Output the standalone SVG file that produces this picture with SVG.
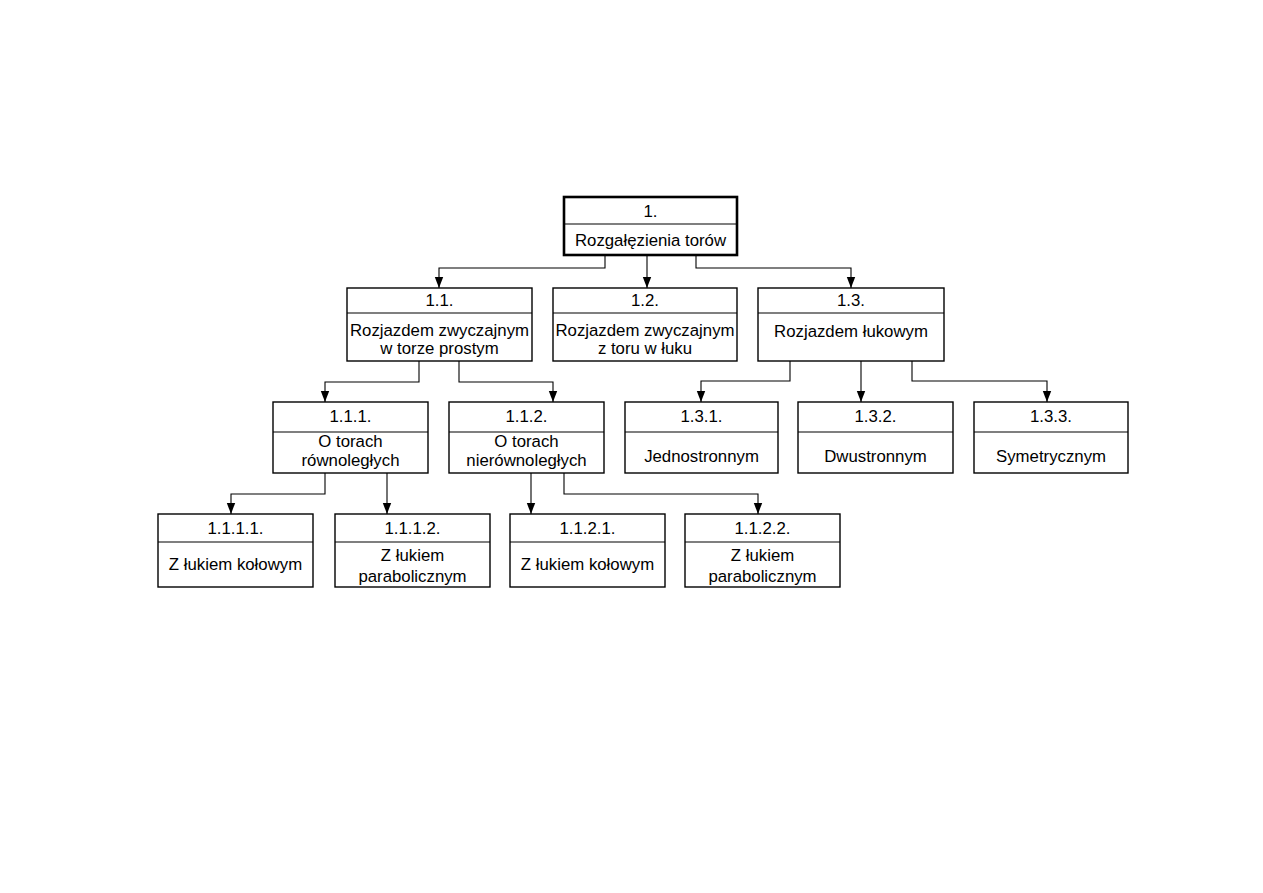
<svg xmlns="http://www.w3.org/2000/svg" width="1263" height="893" viewBox="0 0 1263 893">
<style>
.box{fill:#fff;stroke:#000;stroke-width:1.4}
.root{fill:#fff;stroke:#000;stroke-width:2.6}
.div{stroke:#000;stroke-width:1.2}
text{font-family:"Liberation Sans",Arial,sans-serif;font-size:16.8px;fill:#000;text-anchor:middle}
.c{fill:none;stroke:#000;stroke-width:1.1}
</style>
<defs>
<marker id="ah" viewBox="0 0 10 10" refX="10" refY="5" markerWidth="11" markerHeight="11" markerUnits="userSpaceOnUse" orient="auto">
<path d="M0,1.2 L10,5 L0,8.8 Z" fill="#000"/>
</marker>
</defs>
<rect width="1263" height="893" fill="#fff"/>
<g id="connectors">
<polyline class="c" points="605,255 605,268 439,268 439,288" marker-end="url(#ah)"/>
<polyline class="c" points="647,255 647,288" marker-end="url(#ah)"/>
<polyline class="c" points="696,255 696,268 851,268 851,288" marker-end="url(#ah)"/>
<polyline class="c" points="419,361 419,382 325,382 325,402" marker-end="url(#ah)"/>
<polyline class="c" points="459,361 459,382 553,382 553,402" marker-end="url(#ah)"/>
<polyline class="c" points="790,361 790,381 701,381 701,402" marker-end="url(#ah)"/>
<polyline class="c" points="861,361 861,402" marker-end="url(#ah)"/>
<polyline class="c" points="912,361 912,381 1047,381 1047,402" marker-end="url(#ah)"/>
<polyline class="c" points="325,473 325,494 231,494 231,514" marker-end="url(#ah)"/>
<polyline class="c" points="387,473 387,514" marker-end="url(#ah)"/>
<polyline class="c" points="531,473 531,514" marker-end="url(#ah)"/>
<polyline class="c" points="564,473 564,494 758,494 758,514" marker-end="url(#ah)"/>
</g>
<g id="n1">
<rect class="root" x="564" y="197" width="173" height="58"/>
<line class="div" x1="564" y1="224" x2="737" y2="224"/>
<text x="650.5" y="217">1.</text>
<text x="650.5" y="246">Rozgałęzienia torów</text>
</g>
<g id="n1_1">
<rect class="box" x="347" y="288" width="185" height="73"/>
<line class="div" x1="347" y1="313" x2="532" y2="313"/>
<text x="439.5" y="306">1.1.</text>
<text x="439.5" y="336">Rozjazdem zwyczajnym</text>
<text x="439.5" y="354">w torze prostym</text>
</g>
<g id="n1_2">
<rect class="box" x="553" y="288" width="184" height="73"/>
<line class="div" x1="553" y1="313" x2="737" y2="313"/>
<text x="645" y="306">1.2.</text>
<text x="645" y="336">Rozjazdem zwyczajnym</text>
<text x="645" y="354">z toru w łuku</text>
</g>
<g id="n1_3">
<rect class="box" x="758" y="288" width="186" height="73"/>
<line class="div" x1="758" y1="313" x2="944" y2="313"/>
<text x="851" y="306">1.3.</text>
<text x="851" y="337">Rozjazdem łukowym</text>
</g>
<g id="n1_1_1">
<rect class="box" x="273" y="402" width="155" height="71"/>
<line class="div" x1="273" y1="432" x2="428" y2="432"/>
<text x="350.5" y="422">1.1.1.</text>
<text x="350.5" y="447">O torach</text>
<text x="350.5" y="466">równoległych</text>
</g>
<g id="n1_1_2">
<rect class="box" x="449" y="402" width="155" height="71"/>
<line class="div" x1="449" y1="432" x2="604" y2="432"/>
<text x="526.5" y="422">1.1.2.</text>
<text x="526.5" y="447">O torach</text>
<text x="526.5" y="466">nierównoległych</text>
</g>
<g id="n1_3_1">
<rect class="box" x="625" y="402" width="153" height="71"/>
<line class="div" x1="625" y1="432" x2="778" y2="432"/>
<text x="701.5" y="422">1.3.1.</text>
<text x="701.5" y="462">Jednostronnym</text>
</g>
<g id="n1_3_2">
<rect class="box" x="798" y="402" width="155" height="71"/>
<line class="div" x1="798" y1="432" x2="953" y2="432"/>
<text x="875.5" y="422">1.3.2.</text>
<text x="875.5" y="462">Dwustronnym</text>
</g>
<g id="n1_3_3">
<rect class="box" x="974" y="402" width="154" height="71"/>
<line class="div" x1="974" y1="432" x2="1128" y2="432"/>
<text x="1051" y="422">1.3.3.</text>
<text x="1051" y="462">Symetrycznym</text>
</g>
<g id="n1_1_1_1">
<rect class="box" x="158" y="514" width="155" height="73"/>
<line class="div" x1="158" y1="542" x2="313" y2="542"/>
<text x="235.5" y="534">1.1.1.1.</text>
<text x="235.5" y="570">Z łukiem kołowym</text>
</g>
<g id="n1_1_1_2">
<rect class="box" x="335" y="514" width="155" height="73"/>
<line class="div" x1="335" y1="542" x2="490" y2="542"/>
<text x="412.5" y="534">1.1.1.2.</text>
<text x="412.5" y="561">Z łukiem</text>
<text x="412.5" y="582">parabolicznym</text>
</g>
<g id="n1_1_2_1">
<rect class="box" x="510" y="514" width="155" height="73"/>
<line class="div" x1="510" y1="542" x2="665" y2="542"/>
<text x="587.5" y="534">1.1.2.1.</text>
<text x="587.5" y="570">Z łukiem kołowym</text>
</g>
<g id="n1_1_2_2">
<rect class="box" x="685" y="514" width="155" height="73"/>
<line class="div" x1="685" y1="542" x2="840" y2="542"/>
<text x="762.5" y="534">1.1.2.2.</text>
<text x="762.5" y="561">Z łukiem</text>
<text x="762.5" y="582">parabolicznym</text>
</g>
</svg>
